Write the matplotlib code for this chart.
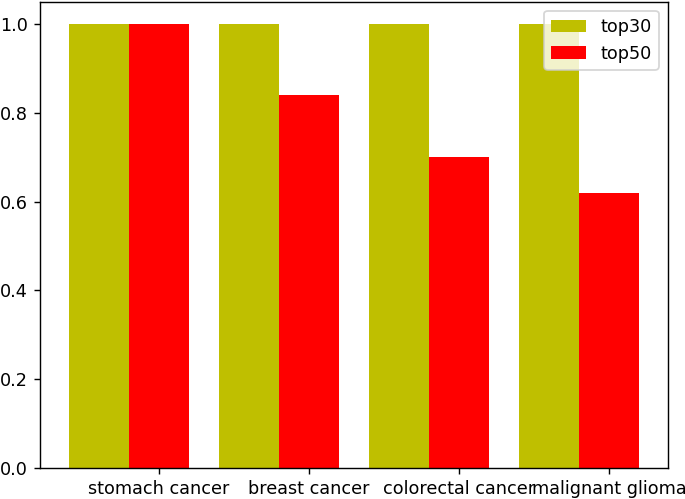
import matplotlib
matplotlib.use("Agg")
import matplotlib.pyplot as plt
import numpy as np

categories = ["stomach cancer", "breast cancer", "colorectal cancer", "malignant glioma"]
top30 = [1.0, 1.0, 1.0, 1.0]
top50 = [1.0, 0.84, 0.70, 0.62]

DPI = 127
fig = plt.figure(figsize=(685/DPI, 499/DPI), dpi=DPI)
ax = fig.add_axes([40/685, 1-467.7/499, (667.7-40)/685, (467.7-2)/499])
x = np.arange(len(categories))
w = 0.4
ax.bar(x, top30, width=w, color='y', label='top30')
ax.bar(x + w, top50, width=w, color='r', label='top50')
ax.set_xticks(x + w)
ax.set_xticklabels(categories)
ax.legend(loc='upper right')
fig.savefig("out.png", dpi=DPI)
